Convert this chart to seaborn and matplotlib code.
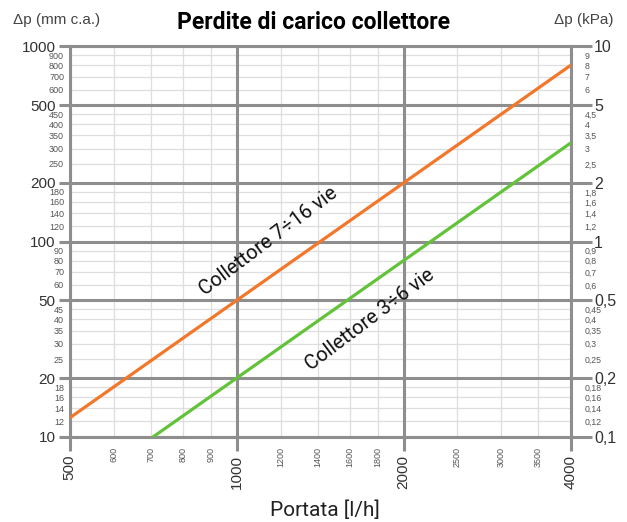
import pandas as pd
import matplotlib
matplotlib.use("Agg")
import matplotlib.pyplot as plt
import seaborn as sns
from matplotlib.ticker import FixedLocator, FixedFormatter

portata_7_16 = [500, 1000, 2000, 4000]
dp_7_16 = [12.5, 50, 200, 800]
portata_3_6 = [700, 1000, 2000, 4000]
dp_3_6 = [9.8, 20, 80, 320]

x_major = [500, 1000, 2000, 4000]
x_minor = [600, 700, 800, 900, 1200, 1400, 1600, 1800, 2500, 3000, 3500]
y_major = [10, 20, 50, 100, 200, 500, 1000]
y_minor = [12, 14, 16, 18, 25, 30, 35, 40, 45, 60, 70, 80, 90,
           120, 140, 160, 180, 250, 300, 350, 400, 450, 600, 700, 800, 900]
kpa_major = [0.1, 0.2, 0.5, 1, 2, 5, 10]
kpa_major_lbl = ["0,1", "0,2", "0,5", "1", "2", "5", "10"]
kpa_minor = [0.12, 0.14, 0.16, 0.18, 0.25, 0.3, 0.35, 0.4, 0.45, 0.6, 0.7, 0.8, 0.9,
             1.2, 1.4, 1.6, 1.8, 2.5, 3, 3.5, 4, 4.5, 6, 7, 8, 9]
kpa_minor_lbl = ["0,12", "0,14", "0,16", "0,18", "0,25", "0,3", "0,35", "0,4", "0,45",
                 "0,6", "0,7", "0,8", "0,9", "1,2", "1,4", "1,6", "1,8", "2,5", "3",
                 "3,5", "4", "4,5", "6", "7", "8", "9"]

df = pd.concat([
    pd.DataFrame({"portata": portata_7_16, "dp": dp_7_16, "serie": "7÷16"}),
    pd.DataFrame({"portata": portata_3_6, "dp": dp_3_6, "serie": "3÷6"}),
])

sns.set_style("white")
plt.rcParams["font.family"] = ["Liberation Sans", "DejaVu Sans"]

GRIGIO = "#8e8e8e"
TESTO = "#333333"
MINORE = "#555555"

fig = plt.figure(figsize=(6.27, 5.22), dpi=100)
ax = fig.add_axes([0.111, 0.163, 0.799, 0.748])

sns.lineplot(data=df, x="portata", y="dp", hue="serie",
             palette={"7÷16": "#f2772a", "3÷6": "#62c23a"},
             linewidth=2.3, legend=False, ax=ax, zorder=5)

ax.set_xscale("log")
ax.set_yscale("log")
ax.set_xlim(500, 4000)
ax.set_ylim(10, 1000)

ax.xaxis.set_major_locator(FixedLocator(x_major))
ax.xaxis.set_major_formatter(FixedFormatter([str(v) for v in x_major]))
ax.xaxis.set_minor_locator(FixedLocator(x_minor))
ax.xaxis.set_minor_formatter(FixedFormatter([str(v) for v in x_minor]))
ax.yaxis.set_major_locator(FixedLocator(y_major))
ax.yaxis.set_major_formatter(FixedFormatter([str(v) for v in y_major]))
ax.yaxis.set_minor_locator(FixedLocator(y_minor))
ax.yaxis.set_minor_formatter(FixedFormatter([str(v) for v in y_minor]))

# griglia secondaria sotto, linee principali sopra
ax.grid(which="minor", color="#dedede", linewidth=0.9)
ax.set_axisbelow(True)
for v in x_major:
    ax.axvline(v, color=GRIGIO, linewidth=2.2, zorder=1)
for v in y_major:
    ax.axhline(v, color=GRIGIO, linewidth=2.2, zorder=1)
for s in ax.spines.values():
    s.set_color(GRIGIO)
    s.set_linewidth(2.2)

ax.tick_params(axis="y", which="major", length=8, width=2.2, color=GRIGIO,
               labelsize=11, labelcolor=TESTO, pad=2, left=True)
ax.tick_params(axis="y", which="minor", length=0, labelsize=6.5,
               labelcolor=MINORE, pad=4)
ax.tick_params(axis="x", which="major", length=10, width=2.2, color=GRIGIO,
               labelsize=11, labelcolor=TESTO, pad=3, labelrotation=90, bottom=True)
ax.tick_params(axis="x", which="minor", length=0, labelsize=6.5,
               labelcolor=MINORE, pad=7, labelrotation=90)

# Asse destro in kPa
ax2 = ax.twinx()
ax2.set_yscale("log")
ax2.set_ylim(0.1, 10)
ax2.yaxis.set_major_locator(FixedLocator(kpa_major))
ax2.yaxis.set_major_formatter(FixedFormatter(kpa_major_lbl))
ax2.yaxis.set_minor_locator(FixedLocator(kpa_minor))
ax2.yaxis.set_minor_formatter(FixedFormatter(kpa_minor_lbl))
ax2.tick_params(axis="y", which="major", length=15, width=2.2, color=GRIGIO,
                labelsize=11.5, labelcolor=TESTO, pad=2, right=True)
ax2.tick_params(axis="y", which="minor", length=0, labelsize=6.3,
                labelcolor=MINORE, pad=10)
for s in ax2.spines.values():
    s.set_visible(False)

ax.set_xlabel("")
ax.set_ylabel("")

fig.text(0.5, 0.956, "Perdite di carico collettore", ha="center", va="center",
         fontsize=16.5, fontweight="bold", family="Roboto", color="#000000")
fig.text(0.02, 0.962, "Δp (mm c.a.)", ha="left", va="center",
         fontsize=11, color="#444444")
fig.text(0.979, 0.962, "Δp (kPa)", ha="right", va="center",
         fontsize=11, color="#444444")
fig.text(0.518, 0.022, "Portata [l/h]", ha="center", va="center",
         fontsize=15, family="Roboto", color="#222222")

ax.text(1140, 100, "Collettore 7÷16 vie", rotation=37, rotation_mode="anchor",
        ha="center", va="center", fontsize=14.5, family="Roboto", color="#111111", zorder=6)
ax.text(1740, 40, "Collettore 3÷6 vie", rotation=37, rotation_mode="anchor",
        ha="center", va="center", fontsize=14.5, family="Roboto", color="#111111", zorder=6)

fig.savefig("out.png", dpi=100)
